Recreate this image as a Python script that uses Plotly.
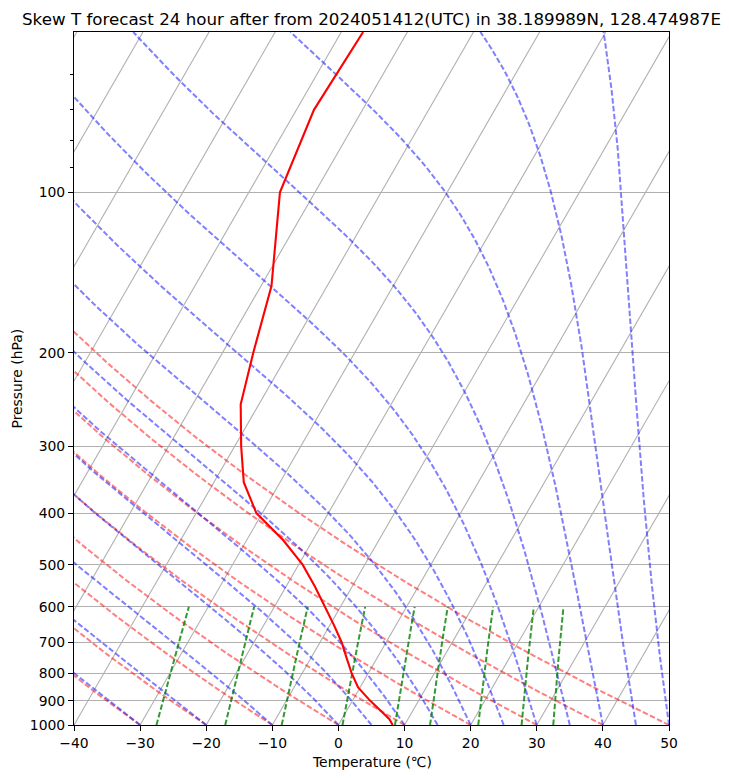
import numpy as np
import plotly.graph_objects as go

# sounding (hPa, degC)
pressure = [1000, 975, 950, 925, 900, 850, 800, 750, 700, 650, 600, 550,
            500, 450, 400, 350, 300, 250, 200, 150, 100, 70, 50]
temperature = [8.2, 7.2, 5.75, 4.2, 2.65, -0.3, -2.5, -4.55, -6.7, -9.35, -12.3, -15.6,
               -19.4, -24.45, -30.9, -35.5, -39.0, -42.75, -45.35, -48.4, -55.3, -57.35, -56.7]

# background line sets (metpy style defaults)
dry_t0 = [-40, -30, -20, -10, 0, 10, 20, 30, 40, 50]
moist_t0 = [-40, -30, -20, -10, 0, 5, 10, 15, 20, 25, 30, 35, 40, 45, 50]
mixing_ratios = [0.0004, 0.001, 0.002, 0.004, 0.007, 0.01, 0.016, 0.024, 0.032]
isotherms = list(range(-110, 51, 10))
p_ticks = [100, 200, 300, 400, 500, 600, 700, 800, 900, 1000]
p_minor = [60, 70, 80, 90]
t_ticks = [-40, -30, -20, -10, 0, 10, 20, 30, 40, 50]

SKEW = 46.45          # degC of x shift per decade of pressure
P_BOT, P_TOP = 1000.0, 50.0

Rd, Cp, Lv, eps = 287.04749, 1004.6662, 2.50084e6, 0.6219569
KAPPA = Rd / Cp


def skew_x(t, p):
    return np.asarray(t, float) + SKEW * np.log10(P_BOT / np.asarray(p, float))


def sat_vp(tk):
    return 6.112 * np.exp(17.67 * (tk - 273.15) / (tk - 29.65))


def dtdp(p, tk):
    e = sat_vp(tk)
    rs = eps * e / (p - e)
    return (Rd * tk + Lv * rs) / (Cp + Lv * Lv * rs * eps / (Rd * tk * tk)) / p


def moist_lapse(t0, plev):
    t = np.zeros((len(plev), len(t0)))
    t[0] = np.asarray(t0, float) + 273.15
    for i in range(1, len(plev)):
        h = plev[i] - plev[i - 1]
        p0, y = plev[i - 1], t[i - 1]
        k1 = dtdp(p0, y)
        k2 = dtdp(p0 + h / 2, y + h / 2 * k1)
        k3 = dtdp(p0 + h / 2, y + h / 2 * k2)
        k4 = dtdp(p0 + h, y + h * k3)
        t[i] = y + h / 6 * (k1 + 2 * k2 + 2 * k3 + k4)
    return t - 273.15


def dewpoint(e):
    v = np.log(e / 6.112)
    return 243.5 * v / (17.67 - v)


GRID = '#b0b0b0'
DASH = '5.5px,2.4px'
fig = go.Figure()

# skewed isotherms (x grid)
for t in isotherms:
    pp = [P_BOT, P_TOP]
    fig.add_trace(go.Scatter(x=skew_x([t, t], pp), y=pp, mode='lines',
                             line=dict(color=GRID, width=1.1), hoverinfo='skip'))

plev = np.geomspace(P_BOT, P_TOP, 200)

# dry adiabats
for t0 in dry_t0:
    tt = (t0 + 273.15) * (plev / P_BOT) ** KAPPA - 273.15
    fig.add_trace(go.Scatter(x=skew_x(tt, plev), y=plev, mode='lines',
                             line=dict(color='rgba(255,0,0,0.5)', width=2, dash=DASH),
                             hoverinfo='skip'))

# moist adiabats
tm = moist_lapse(moist_t0, plev)
for j in range(len(moist_t0)):
    fig.add_trace(go.Scatter(x=skew_x(tm[:, j], plev), y=plev, mode='lines',
                             line=dict(color='rgba(0,0,255,0.5)', width=2, dash=DASH),
                             hoverinfo='skip'))

# mixing ratio lines
pm = np.linspace(1000, 600, 50)
for w in mixing_ratios:
    td = dewpoint(pm * w / (eps + w))
    fig.add_trace(go.Scatter(x=skew_x(td, pm), y=pm, mode='lines',
                             line=dict(color='rgba(0,128,0,0.8)', width=2, dash=DASH),
                             hoverinfo='skip'))

# temperature profile
fig.add_trace(go.Scatter(x=skew_x(temperature, pressure), y=pressure, mode='lines',
                         line=dict(color='red', width=2.1)))

font = dict(family='DejaVu Sans', size=13.9, color='black')
fig.update_layout(
    width=729, height=778,
    margin=dict(l=74, r=60, t=32, b=53),
    plot_bgcolor='white', paper_bgcolor='white',
    showlegend=False,
    font=font,
    xaxis=dict(range=[-40, 50], tickvals=t_ticks, showgrid=False, zeroline=False,
               showline=True, linecolor='black', linewidth=1.1, mirror=True,
               ticks='outside', ticklen=5, tickwidth=1.1, tickcolor='black'),
    yaxis=dict(type='log', range=[np.log10(P_BOT), np.log10(P_TOP)],
               tickvals=p_ticks, ticktext=[str(v) for v in p_ticks],
               showgrid=True, gridcolor=GRID, gridwidth=1.1, zeroline=False,
               showline=True, linecolor='black', linewidth=1.1, mirror=True,
               ticks='outside', ticklen=5, tickwidth=1.1, tickcolor='black',
               minor=dict(tickmode='array', tickvals=p_minor, ticks='outside',
                          ticklen=3, tickwidth=0.8, tickcolor='black', showgrid=False)),
)

fig.add_annotation(text='Skew T forecast 24 hour after from 2024051412(UTC) in 38.189989N, 128.474987E',
                   xref='paper', yref='paper', x=0.5, y=1 + 13.5 / 693, xanchor='center',
                   yanchor='middle', showarrow=False,
                   font=dict(family='DejaVu Sans', size=16.7, color='black'))
fig.add_annotation(text='Temperature (℃)', xref='paper', yref='paper', x=0.5, y=-37 / 693,
                   xanchor='center', yanchor='middle', showarrow=False, font=font)
fig.add_annotation(text='Pressure (hPa)', xref='paper', yref='paper', x=-58 / 595, y=0.5,
                   xanchor='center', yanchor='middle', textangle=-90, showarrow=False, font=font)

fig.write_html('out.html', config={'displayModeBar': False},
               post_script="document.body.style.margin='0';")
